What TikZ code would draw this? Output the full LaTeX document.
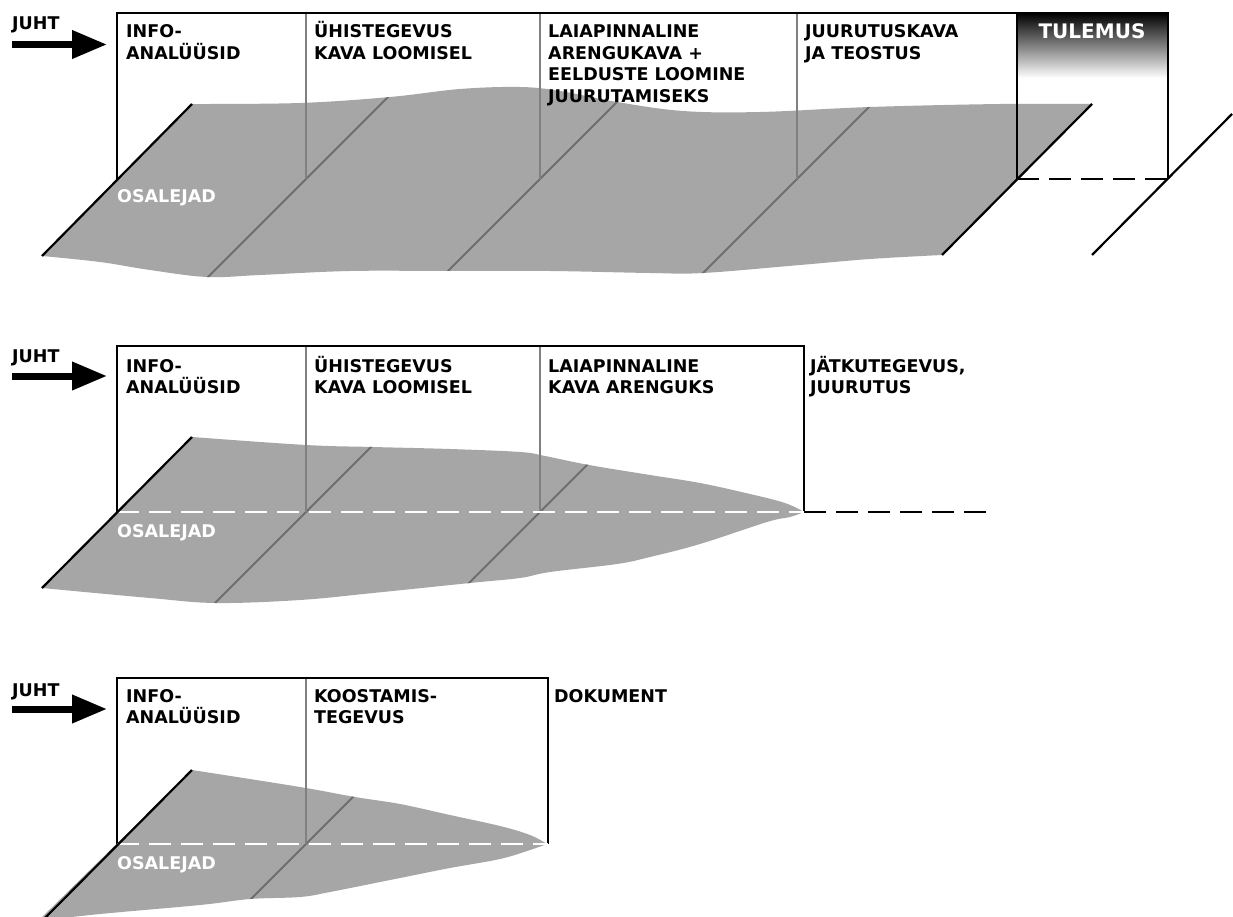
\documentclass[tikz,border=0pt]{standalone}
\usepackage{fontspec}
\newfontfamily\labfont{DejaVu Sans}
\usetikzlibrary{arrows.meta,calc}
\definecolor{slabgray}{HTML}{A6A6A6}
\definecolor{divgray}{HTML}{808080}
\definecolor{diaggray}{HTML}{6E6E6E}
\begin{document}
\begin{tikzpicture}[x=1pt,y=-1pt,
  slab/.style={fill=slabgray,draw=none},
  boxline/.style={line width=2.2pt,black},
  divline/.style={line width=2pt,divgray},
  diagline/.style={line width=2pt,diaggray},
  edgeline/.style={line width=2.2pt,black},
  dashblack/.style={line width=2.4pt,black,dash pattern=on 22pt off 10pt},
  dashwhite/.style={line width=2.4pt,white,dash pattern=on 22pt off 10pt},
  lab/.style={anchor=base west,inner sep=0pt,align=left,font=\labfont\bfseries\fontsize{17.5}{21.5}\selectfont},
  wlab/.style={lab,text=white},
  leadarrow/.style={line width=7pt,-{Triangle[length=35pt,width=27pt]}}]
\useasboundingbox[fill=white] (0,0) rectangle (1233,917);

% ---------- slab paths ----------
\def\slabA{(192,104) -- plot[smooth,tension=0.6] coordinates {(192,104) (300,103) (390,97) (460,89) (520,87) (560,91) (617,102) (683,111) (760,112) (870,107) (1000,104) (1092,104)} -- (942,255) -- plot[smooth,tension=0.6] coordinates {(942,255) (870,259) (800,265) (703,273) (650,273) (550,271) (450,271) (350,271) (260,275) (207,277) (150,270) (100,262) (42,256)} -- cycle}
\def\slabB{(192,437) -- plot[smooth,tension=0.6] coordinates {(192,437) (306,445) (373,447) (450,449) (520,452) (545,456) (589,465) (650,475) (700,483) (750,494) (785,503) (804,512)} -- plot[smooth,tension=0.6] coordinates {(804,512) (790,517) (767,522) (700,544) (650,557) (617,564) (550,572) (520,578) (470,583) (373,593) (300,600) (216,603) (150,598) (42,588)} -- cycle}
\def\slabC{(192,770) -- plot[smooth,tension=0.6] coordinates {(192,770) (300,787) (355,797) (400,804) (450,815) (500,826) (530,835) (547,844)} -- plot[smooth,tension=0.6] coordinates {(547,844) (530,850) (500,859) (450,868) (400,878) (330,892) (300,897) (250,899) (200,905) (100,914) (38,921)} -- cycle}

% ---------- coordinates ----------
\coordinate (A0) at (117,179); \coordinate (A1) at (306,179); \coordinate (A2) at (540,179);
\coordinate (A3) at (797,179); \coordinate (A4) at (1017,179); \coordinate (A5) at (1168,179);
\coordinate (B0) at (117,512); \coordinate (B1) at (306,512); \coordinate (B2) at (540,512); \coordinate (B3) at (804,512);
\coordinate (C0) at (117,844); \coordinate (C1) at (306,844); \coordinate (C2) at (548,844);

% ---------- TOP PANEL ----------
\shade[top color=black,bottom color=white] (1017,13) rectangle (1168,78);
\fill[slab] \slabA;
\begin{scope}
  \clip \slabA;
  \foreach \p in {A1,A2,A3} \draw[diagline] ($(\p)+(260,-260)$) -- ($(\p)+(-260,260)$);
\end{scope}
\foreach \p in {A1,A2,A3} \draw[divline] (\p) -- ($(\p)+(0,-166)$);
\draw[boxline] (A0) -- (117,13) -- (1168,13) -- (A5);
\draw[boxline] (A4) -- (1017,13);
\draw[dashblack] (A4) -- (A5);
\draw[edgeline] (192,104) -- (42,256);
\draw[edgeline] (1092,104) -- (942,255);
\coordinate (R1) at (1092,255); \coordinate (R2) at (1232,114);
\draw[edgeline] (R1) -- (R2);

\node[lab] (juht1) at (12,30) {JUHT};
\coordinate (ar1s) at (12,44.5); \coordinate (ar1e) at (107,44.5);
\draw[leadarrow] (ar1s) -- (ar1e);
\node[lab] (t11) at (126,59.5) {INFO-\\ANALÜÜSID};
\node[lab] (t12) at (314,59.5) {ÜHISTEGEVUS\\KAVA LOOMISEL};
\node[lab] (t13) at (548,102.5) {LAIAPINNALINE\\ARENGUKAVA +\\EELDUSTE LOOMINE\\JUURUTAMISEKS};
\node[lab] (t14) at (805,59.5) {JUURUTUSKAVA\\JA TEOSTUS};
\node[anchor=base,inner sep=0pt,text=white,font=\labfont\bfseries\fontsize{20}{24}\selectfont] (tul) at (1092,39) {TULEMUS};
\node[wlab] (os1) at (117,203) {OSALEJAD};

% ---------- MIDDLE PANEL ----------
\fill[slab] \slabB;
\begin{scope}
  \clip \slabB;
  \foreach \p in {B1,B2} \draw[diagline] ($(\p)+(260,-260)$) -- ($(\p)+(-260,260)$);
\end{scope}
\foreach \p in {B1,B2} \draw[divline] (\p) -- ($(\p)+(0,-166)$);
\draw[boxline] (B0) -- (117,346) -- (804,346) -- (B3);
\draw[dashwhite] (B0) -- (B3);
\coordinate (B4) at (988,512);
\draw[dashblack] (B3) -- (B4);
\draw[edgeline] (192,437) -- (42,588);

\node[lab] (juht2) at (12,362) {JUHT};
\coordinate (ar2s) at (12,376); \coordinate (ar2e) at (107,376);
\draw[leadarrow] (ar2s) -- (ar2e);
\node[lab] (t21) at (126,393.5) {INFO-\\ANALÜÜSID};
\node[lab] (t22) at (314,393.5) {ÜHISTEGEVUS\\KAVA LOOMISEL};
\node[lab] (t23) at (548,393.5) {LAIAPINNALINE\\KAVA ARENGUKS};
\node[lab] (t24) at (810,393.5) {JÄTKUTEGEVUS,\\JUURUTUS};
\node[wlab] (os2) at (117,537) {OSALEJAD};

% ---------- BOTTOM PANEL ----------
\fill[slab] \slabC;
\begin{scope}
  \clip \slabC;
  \draw[diagline] ($(C1)+(260,-260)$) -- ($(C1)+(-260,260)$);
\end{scope}
\draw[divline] (C1) -- ($(C1)+(0,-166)$);
\draw[boxline] (C0) -- (117,678) -- (548,678) -- (C2);
\draw[dashwhite] (C0) -- (C2);
\draw[edgeline] (192,770) -- (38,925);

\node[lab] (juht3) at (12,696) {JUHT};
\coordinate (ar3s) at (12,709); \coordinate (ar3e) at (107,709);
\draw[leadarrow] (ar3s) -- (ar3e);
\node[lab] (t31) at (126,723.5) {INFO-\\ANALÜÜSID};
\node[lab] (t32) at (314,723.5) {KOOSTAMIS-\\TEGEVUS};
\node[lab] (t33) at (554,702) {DOKUMENT};
\node[wlab] (os3) at (117,869) {OSALEJAD};
\end{tikzpicture}
\end{document}
